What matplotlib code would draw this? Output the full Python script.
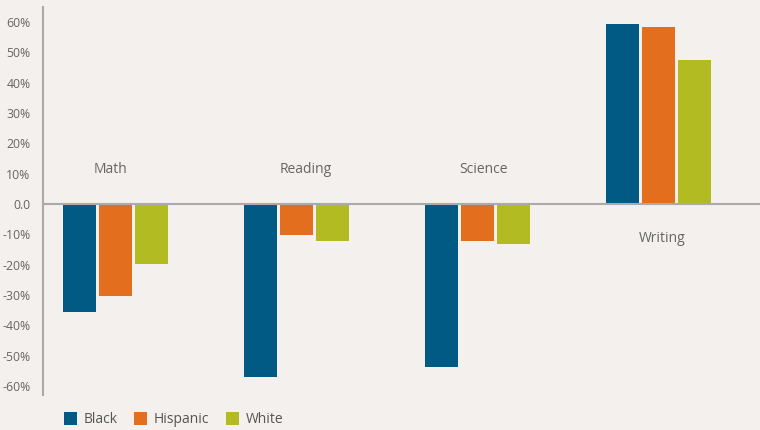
import numpy as np
import matplotlib.pyplot as plt
from matplotlib.ticker import FuncFormatter

plt.rcParams['font.family'] = ['Open Sans', 'DejaVu Sans']

subjects = ['Math', 'Reading', 'Science', 'Writing']
groups = ['Black', 'Hispanic', 'White']
black = [-35.6, -57.0, -53.8, 59.4]
hispanic = [-30.4, -10.2, -12.2, 58.4]
white = [-19.8, -12.2, -13.2, 47.5]
colors = ['#005a84', '#e36f1e', '#b2bc22']
yticks = [-60, -50, -40, -30, -20, -10, 0, 10, 20, 30, 40, 50, 60]

bg = '#f3f0ed'
fig = plt.figure(figsize=(7.6, 4.3), dpi=100, facecolor=bg)
ax = fig.add_axes([0.0566, 0.0814, 0.9434, 0.9023])
ax.set_facecolor(bg)

x = np.arange(len(subjects))
step = 0.199
width = 0.182
for i, (vals, name) in enumerate(zip([black, hispanic, white], groups)):
    ax.bar(x + (i - 1) * step, vals, width, color=colors[i], label=name, zorder=2)

ax.axhline(0, color='#aaaaaa', lw=1.5, zorder=3)

# subject labels sit on the opposite side of the bars (small nudges as in original)
label_shift = [-0.028, 0.05, 0.033, 0.017]
for xi, name, v, dx in zip(x, subjects, black, label_shift):
    ty = 11.3 if v < 0 else -11.3
    ax.text(xi + dx, ty, name, ha='center', va='center', fontsize=10,
            color='#666666')

ax.set_xlim(-0.4, 3.56)
ax.set_ylim(-63, 65)
ax.set_xticks([])
ax.set_yticks(yticks)
ax.yaxis.set_major_formatter(FuncFormatter(lambda v, p: '0.0' if v == 0 else '%d%%' % v))
ax.tick_params(axis='y', length=0, pad=9, labelsize=8.8, labelcolor='#666666')
for s in ['top', 'right', 'bottom']:
    ax.spines[s].set_visible(False)
ax.spines['left'].set_color('#aaaaaa')
ax.spines['left'].set_linewidth(1.5)

leg = fig.legend(loc='lower left', bbox_to_anchor=(0.068, -0.022), ncol=3,
                 frameon=False, fontsize=10, handlelength=0.95, handleheight=1.05,
                 handletextpad=0.45, columnspacing=1.2)
for t in leg.get_texts():
    t.set_color('#555555')

fig.savefig('out.png', dpi=100, facecolor=bg)
